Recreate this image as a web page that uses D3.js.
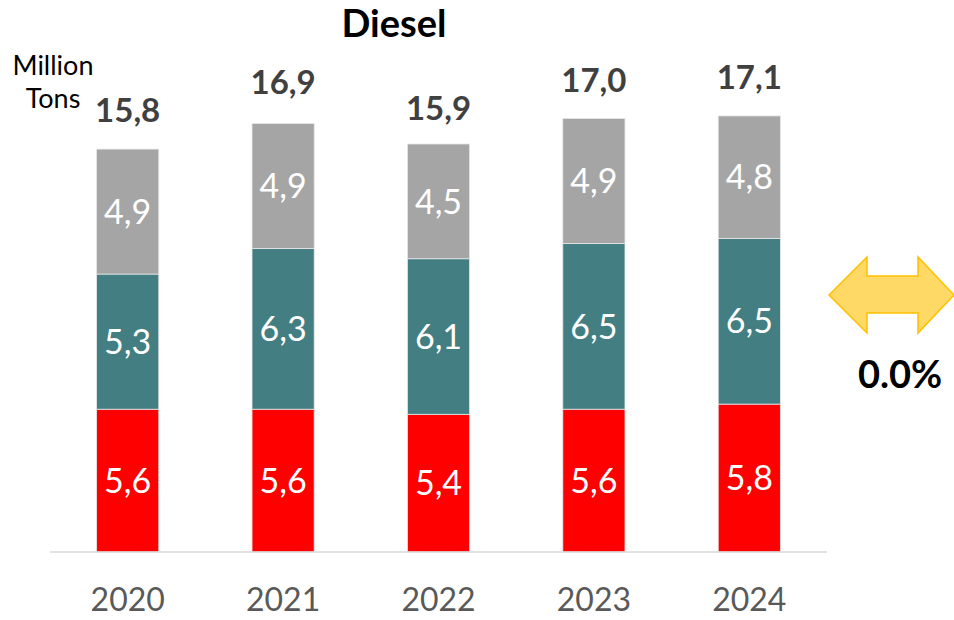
<!DOCTYPE html>
<html>
<head>
<meta charset="utf-8">
<script src="https://cdn.jsdelivr.net/npm/d3@7"></script>
<style>
  body { margin: 0; background: #fff; }
  svg { display: block; font-family: Lato, "Open Sans", sans-serif; }
</style>
</head>
<body>
<svg id="chart" width="954" height="620"></svg>
<script>
var years = ['2020', '2021', '2022', '2023', '2024'];
var seriesNames = ['red', 'teal', 'gray'];
var redValues = [5.6, 5.6, 5.4, 5.6, 5.8];
var tealValues = [5.3, 6.3, 6.1, 6.5, 6.5];
var grayValues = [4.9, 4.9, 4.5, 4.9, 4.8];
var totals = [15.8, 16.9, 15.9, 17.0, 17.1];
var changeLabel = '0.0%';

var colors = { red: '#ff0000', teal: '#427e82', gray: '#a5a5a5' };

var rows = years.map(function(y, i) {
  return { year: y, red: redValues[i], teal: tealValues[i], gray: grayValues[i], total: totals[i] };
});

var svg = d3.select('#chart'),
    fmt = function(v) { return d3.format('.1f')(v).replace('.', ','); };

var x = d3.scaleBand()
  .domain(years)
  .range([50, 827])
  .paddingInner(0.6)
  .paddingOuter(0.3);

var y = d3.scaleLinear()
  .domain([0, 20])
  .range([552, 42]);

var stacked = d3.stack().keys(seriesNames)(rows);

// stacked segments
var layers = svg.selectAll('g.layer')
  .data(stacked)
  .enter().append('g')
  .attr('class', 'layer')
  .attr('fill', function(d) { return colors[d.key]; });

layers.selectAll('rect')
  .data(function(d) { return d; })
  .enter().append('rect')
  .attr('x', function(d) { return x(d.data.year); })
  .attr('y', function(d) { return y(d[1]); })
  .attr('width', x.bandwidth())
  .attr('height', function(d) { return y(d[0]) - y(d[1]); })
  .attr('stroke', '#e6e6e6')
  .attr('stroke-width', 0.8);

layers.selectAll('text')
  .data(function(d) { return d; })
  .enter().append('text')
  .attr('x', function(d) { return x(d.data.year) + x.bandwidth() / 2; })
  .attr('y', function(d) { return (y(d[0]) + y(d[1])) / 2; })
  .attr('dy', '0.36em')
  .attr('text-anchor', 'middle')
  .attr('fill', '#fff')
  .attr('font-size', 34)
  .text(function(d) { return fmt(d[1] - d[0]); });

// baseline axis
var xAxis = svg.append('g')
  .attr('transform', 'translate(0,' + y(0) + ')')
  .call(d3.axisBottom(x).tickSize(0).tickPadding(36));
xAxis.select('.domain').attr('stroke', '#d9d9d9').attr('stroke-width', 1.5)
  .attr('d', 'M50,0H827');
xAxis.selectAll('text')
  .attr('font-family', 'Lato, sans-serif')
  .attr('font-size', 32)
  .attr('fill', '#595959');

// totals
svg.append('g').selectAll('text')
  .data(rows)
  .enter().append('text')
  .attr('x', function(d) { return x(d.year) + x.bandwidth() / 2; })
  .attr('y', function(d) { return y(d.total) - 27; })
  .attr('text-anchor', 'middle')
  .attr('font-size', 33)
  .attr('font-weight', 'bold')
  .attr('fill', '#404040')
  .text(function(d) { return fmt(d.total); });

// title and unit
svg.append('text')
  .attr('x', 394).attr('y', 37)
  .attr('text-anchor', 'middle')
  .attr('font-size', 38)
  .attr('font-weight', 'bold')
  .attr('fill', '#000')
  .text('Diesel');

svg.append('text')
  .attr('x', 53).attr('y', 75)
  .attr('text-anchor', 'middle')
  .attr('font-size', 27)
  .attr('fill', '#000')
  .text('Million');
svg.append('text')
  .attr('x', 53).attr('y', 108)
  .attr('text-anchor', 'middle')
  .attr('font-size', 27)
  .attr('fill', '#000')
  .text('Tons');

// double arrow
var ax0 = 829, ax1 = 954, ahead0 = 867, ahead1 = 918, ay0 = 257, ay1 = 333, ys0 = 276, ys1 = 313, ym = 295;
svg.append('path')
  .attr('d', [
    'M', ax0, ym, 'L', ahead0, ay0, 'L', ahead0, ys0, 'L', ahead1, ys0, 'L', ahead1, ay0,
    'L', ax1, ym, 'L', ahead1, ay1, 'L', ahead1, ys1, 'L', ahead0, ys1, 'L', ahead0, ay1, 'Z'
  ].join(' '))
  .attr('fill', '#ffd966')
  .attr('stroke', '#ffc000')
  .attr('stroke-width', 1.5)
  .attr('stroke-linejoin', 'miter');

svg.append('text')
  .attr('x', 900).attr('y', 388)
  .attr('text-anchor', 'middle')
  .attr('font-size', 38)
  .attr('font-weight', 'bold')
  .attr('fill', '#000')
  .text(changeLabel);
</script>
</body>
</html>
